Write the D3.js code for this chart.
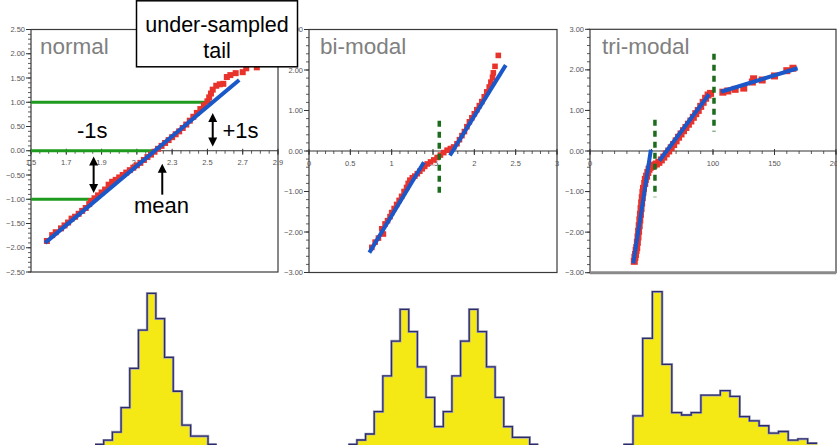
<!DOCTYPE html>
<html><head><meta charset="utf-8">
<script src="https://cdn.jsdelivr.net/npm/d3@7"></script>
<style>body{margin:0;background:#fff}svg{display:block;font-family:"Liberation Sans",Arial,Helvetica,sans-serif}</style>
</head><body><svg id="c" width="837" height="445"></svg>
<script>
// ---------------- DATA ----------------
// normal-probability plots: [data value, normal score]
const normalPoints = [[1.59,-1.86],[1.62,-1.74],[1.64,-1.68],[1.67,-1.60],[1.69,-1.54],[1.71,-1.48],[1.73,-1.40],[1.75,-1.36],[1.77,-1.30],[1.79,-1.24],[1.81,-1.18],[1.83,-1.10],[1.84,-1.04],[1.86,-0.98],[1.88,-0.92],[1.90,-0.86],[1.92,-0.80],[1.94,-0.70],[1.96,-0.64],[1.98,-0.60],[2.00,-0.55],[2.02,-0.50],[2.04,-0.45],[2.06,-0.40],[2.08,-0.35],[2.10,-0.30],[2.12,-0.25],[2.14,-0.19],[2.16,-0.13],[2.18,-0.08],[2.20,-0.02],[2.22,0.04],[2.24,0.10],[2.26,0.16],[2.28,0.22],[2.30,0.28],[2.32,0.34],[2.34,0.40],[2.36,0.47],[2.38,0.54],[2.40,0.62],[2.42,0.70],[2.44,0.78],[2.46,0.86],[2.48,0.94],[2.50,1.02],[2.51,1.10],[2.52,1.18],[2.53,1.26],[2.55,1.34],[2.57,1.37],[2.59,1.38],[2.61,1.52],[2.63,1.56],[2.66,1.60],[2.70,1.62],[2.72,1.70],[2.78,1.72],[2.84,1.82]];
const normalFit = [[[1.58,-1.90],[2.68,1.46]]];
const normalRefLines = [[1,2.53],[0,2.20],[-1,1.855]]; // [score, x where the line stops]

const bimodalPoints = [[0.76,-2.38],[0.80,-2.25],[0.84,-2.15],[0.90,-2.05],[0.88,-1.92],[0.92,-1.80],[0.95,-1.72],[0.98,-1.62],[1.00,-1.52],[1.03,-1.42],[1.06,-1.32],[1.09,-1.22],[1.12,-1.12],[1.15,-1.00],[1.18,-0.90],[1.20,-0.80],[1.22,-0.72],[1.25,-0.66],[1.28,-0.62],[1.31,-0.56],[1.34,-0.50],[1.37,-0.44],[1.40,-0.38],[1.43,-0.32],[1.47,-0.27],[1.51,-0.22],[1.55,-0.16],[1.59,-0.10],[1.63,-0.04],[1.67,0.02],[1.71,0.06],[1.75,0.10],[1.79,0.18],[1.82,0.28],[1.85,0.38],[1.88,0.48],[1.91,0.60],[1.94,0.72],[1.97,0.82],[2.00,0.92],[2.03,1.02],[2.06,1.12],[2.09,1.22],[2.12,1.34],[2.15,1.46],[2.18,1.58],[2.20,1.70],[2.22,1.82],[2.23,1.93],[2.25,2.09],[2.29,2.36]];
const bimodalFit = [[[0.73,-2.51],[1.39,-0.28]],[[1.705,-0.11],[2.38,2.12]]];
const bimodalSplits = [[1.576,-1.13,0.75]]; // [x, from score, to score]

const trimodalPoints = [[36,-2.72],[36.5,-2.62],[37,-2.55],[37.5,-2.45],[38,-2.38],[38.5,-2.25],[39,-2.12],[39.5,-1.98],[40,-1.84],[40.5,-1.70],[41,-1.56],[41.5,-1.42],[42,-1.28],[42.5,-1.15],[43,-1.02],[43.5,-0.92],[44.5,-0.80],[45,-0.70],[46,-0.62],[47,-0.53],[48,-0.45],[49,-0.40],[50,-0.37],[52,-0.35],[54,-0.32],[56,-0.28],[58,-0.22],[60,-0.15],[62,-0.07],[64,0.00],[66,0.08],[68,0.16],[70,0.25],[72,0.34],[74,0.42],[76,0.50],[78,0.58],[80,0.66],[82,0.74],[84,0.83],[86,0.92],[88,1.00],[90,1.10],[92,1.20],[94,1.30],[96,1.38],[98,1.42],[108,1.45],[112,1.48],[118,1.52],[125,1.55],[132,1.70],[133,1.78],[140,1.75],[150,1.85],[160,1.98],[165,2.04]];
const trimodalFit = [[[35.2,-2.77],[49.5,0.03]],[[56.4,-0.24],[96.8,1.40]],[[106.5,1.46],[168.8,2.04]]];
const trimodalSplits = [[52.8,-1.14,0.77],[100.8,0.48,2.4]];

// tick labels
const normalXTicks = [1.5,1.7,1.9,2.1,2.3,2.5,2.7,2.9];
const normalYTicks = [-2.5,-2,-1.5,-1,-0.5,0,0.5,1,1.5,2,2.5];
const bimodalXTicks = [0,0.5,1,1.5,2,2.5,3];
const trimodalXTicks = [0,50,100,150,200];
const scoreYTicks = [-3,-2,-1,0,1,2,3];

// histograms (counts per bin, leading/trailing empty bins included)
const histNormal = [0,1,3,9,18.6,28,37,30.8,21.3,13,4.7,2,2,0];
const histBimodal = [0,1,2.4,7.6,15.9,24,31.4,26.2,18,10.9,4.1,7.6,15.9,24,31.4,26.2,18,10.9,4.1,1.6,1.6,0];
const histTrimodal = [0,6.9,25.7,37,19.4,7.7,7.1,7.7,11.9,11.9,13,11.6,6.7,5.7,4.5,2.7,3.1,1,1.3,0.25];

const titles = ["normal","bi-modal","tri-modal"];

// ---------------- DRAW ----------------
const svg = d3.select("#c");
const RED="#e8332c", BLUE="#1a57c8", GREEN="#1e9a1e", DGREEN="#1d6b1d";

function panel(cfg){
  const x = d3.scaleLinear().domain(cfg.xd).range([cfg.l, cfg.r]);
  const y = d3.scaleLinear().domain(cfg.yd).range([cfg.b, cfg.t]);
  const g = svg.append("g");
  g.append("rect").attr("x",cfg.l).attr("y",cfg.t).attr("width",cfg.r-cfg.l).attr("height",cfg.b-cfg.t)
    .attr("fill","none").attr("stroke","#3a3a3a").attr("stroke-width",1.2);
  const yMinor = d3.range(cfg.yd[0], cfg.yd[1]+1e-9, cfg.yMinor);
  g.selectAll(null).data(yMinor).join("line")
    .attr("x1",cfg.l-3).attr("x2",cfg.l).attr("y1",d=>y(d)).attr("y2",d=>y(d))
    .attr("stroke","#333").attr("stroke-width",0.8);
  g.selectAll(null).data(cfg.yTicks).join("line")
    .attr("x1",cfg.l-5).attr("x2",cfg.l).attr("y1",d=>y(d)).attr("y2",d=>y(d))
    .attr("stroke","#333").attr("stroke-width",1);
  g.selectAll(null).data(cfg.yTicks).join("text")
    .attr("x",cfg.l-6).attr("y",d=>y(d)+2.6).attr("text-anchor","end")
    .attr("font-size",7.5).attr("fill","#555").text(d=>d3.format(".2f")(d));
  const y0 = y(0);
  g.append("line").attr("x1",cfg.l).attr("x2",cfg.r).attr("y1",y0).attr("y2",y0)
    .attr("stroke","#333").attr("stroke-width",1.2);
  const xMinor = d3.range(cfg.xd[0], cfg.xd[1]+1e-9, cfg.xMinor);
  g.selectAll(null).data(xMinor).join("line")
    .attr("x1",d=>x(d)).attr("x2",d=>x(d)).attr("y1",y0).attr("y2",y0+3)
    .attr("stroke","#333").attr("stroke-width",0.8);
  g.selectAll(null).data(cfg.xTicks).join("line")
    .attr("x1",d=>x(d)).attr("x2",d=>x(d)).attr("y1",y0-2).attr("y2",y0+4)
    .attr("stroke","#333").attr("stroke-width",1);
  g.selectAll(null).data(cfg.xTicks).join("text")
    .attr("x",d=>x(d)).attr("y",y0+14.5).attr("text-anchor","middle")
    .attr("font-size",7.5).attr("fill","#555").text(d=>String(d));
  g.append("text").attr("x",cfg.l+cfg.titleDx).attr("y",54).attr("font-size",22.5).attr("fill","#808080").text(cfg.title);
  return {x,y,g};
}

function marks(p, points, fits, splits, sq){
  p.g.selectAll(null).data(points).join("rect")
    .attr("x",d=>p.x(d[0])-sq/2).attr("y",d=>p.y(d[1])-sq/2).attr("width",sq).attr("height",sq).attr("fill",RED);
  (splits||[]).forEach(s=>{
    p.g.append("line").attr("x1",p.x(s[0])).attr("x2",p.x(s[0])).attr("y1",p.y(s[2])).attr("y2",p.y(s[1]))
      .attr("stroke",DGREEN).attr("stroke-width",3.5).attr("stroke-dasharray","6 5");
  });
  const line = d3.line().x(d=>p.x(d[0])).y(d=>p.y(d[1]));
  fits.forEach(f=>{
    p.g.append("path").attr("d",line(f)).attr("stroke",BLUE).attr("stroke-width",4).attr("fill","none");
  });
}

const p1 = panel({xd:[1.5,2.9], yd:[-2.5,2.5], l:31, r:278, t:29.5, b:272, xTicks:normalXTicks, yTicks:normalYTicks, xMinor:0.05, yMinor:0.1, title:titles[0], titleDx:9});
normalRefLines.forEach(r=>{
  p1.g.append("line").attr("x1",p1.x(1.5)).attr("x2",p1.x(r[1])).attr("y1",p1.y(r[0])).attr("y2",p1.y(r[0]))
    .attr("stroke",GREEN).attr("stroke-width",3);
});
marks(p1, normalPoints, normalFit, null, 6);

const p2 = panel({xd:[0,3], yd:[-3,3], l:309, r:557, t:29.5, b:272.5, xTicks:bimodalXTicks, yTicks:scoreYTicks, xMinor:0.1, yMinor:0.2, title:titles[1], titleDx:11});
marks(p2, bimodalPoints, bimodalFit, bimodalSplits, 5.6);

const p3 = panel({xd:[0,200], yd:[-3,3], l:590, r:836, t:29.3, b:272.7, xTicks:trimodalXTicks, yTicks:scoreYTicks, xMinor:10, yMinor:0.2, title:titles[2], titleDx:12});
p3.g.append("line").attr("x1",590).attr("x2",836).attr("y1",272.7).attr("y2",272.7).attr("stroke","#8a8a8a").attr("stroke-width",3);
marks(p3, trimodalPoints, trimodalFit, trimodalSplits, 7);

function vArrow(xv, zFrom, zTo, both){
  const X = p1.x(xv), Y1 = p1.y(zFrom), Y2 = p1.y(zTo);
  const dir = Y2 > Y1 ? 1 : -1, h = 9, w = 4.5;
  svg.append("line").attr("x1",X).attr("x2",X).attr("y1",Y1 + (both? dir*h*0.8 : 0)).attr("y2",Y2 - dir*h*0.8)
    .attr("stroke","#000").attr("stroke-width",2);
  const head = (ty,d)=> svg.append("path").attr("d",`M${X},${ty} L${X-w},${ty-d*h} L${X+w},${ty-d*h} Z`).attr("fill","#000");
  head(Y2, dir);
  if(both) head(Y1, -dir);
}
vArrow(2.53, 0.78, 0.09, true);
vArrow(1.855, -0.12, -0.87, true);
vArrow(2.244, -0.905, -0.27, false);
svg.append("text").attr("x",77).attr("y",138.3).attr("font-size",22).text("-1s");
svg.append("text").attr("x",222.5).attr("y",138.3).attr("font-size",22).text("+1s");
svg.append("text").attr("x",134).attr("y",212.7).attr("font-size",22).text("mean");

svg.append("rect").attr("x",136.5).attr("y",0.8).attr("width",161).attr("height",66).attr("fill","#fff").attr("stroke","#000").attr("stroke-width",1.5);
svg.append("text").attr("x",217).attr("y",31.5).attr("text-anchor","middle").attr("font-size",21.5).text("under-sampled");
svg.append("text").attr("x",217).attr("y",57.5).attr("text-anchor","middle").attr("font-size",21.5).text("tail");

function hist(counts, x0, x1, top){
  const base = 444.3;
  const x = d3.scaleLinear().domain([0, counts.length]).range([x0, x1]);
  const y = d3.scaleLinear().domain([0, d3.max(counts)]).range([base, top]);
  const pts = counts.map((c,i)=>[i,c]).concat([[counts.length, counts[counts.length-1]]]);
  const area = d3.area().curve(d3.curveStepAfter).x(d=>x(d[0])).y0(base+2).y1(d=>y(d[1]));
  const line = d3.line().curve(d3.curveStepAfter).x(d=>x(d[0])).y(d=>y(d[1]));
  svg.append("path").attr("d",area(pts)).attr("fill","#f4e914");
  svg.append("path").attr("d",line(pts)).attr("fill","none").attr("stroke","#a8a8c0").attr("stroke-width",2.6);
  svg.append("path").attr("d",line(pts)).attr("fill","none").attr("stroke","#2b2b6e").attr("stroke-width",1.3);
}
hist(histNormal, 95, 216.7, 293.3);
hist(histBimodal, 348.3, 538.3, 309.3);
hist(histTrimodal, 623.3, 817.3, 291.7);
</script></body></html>
